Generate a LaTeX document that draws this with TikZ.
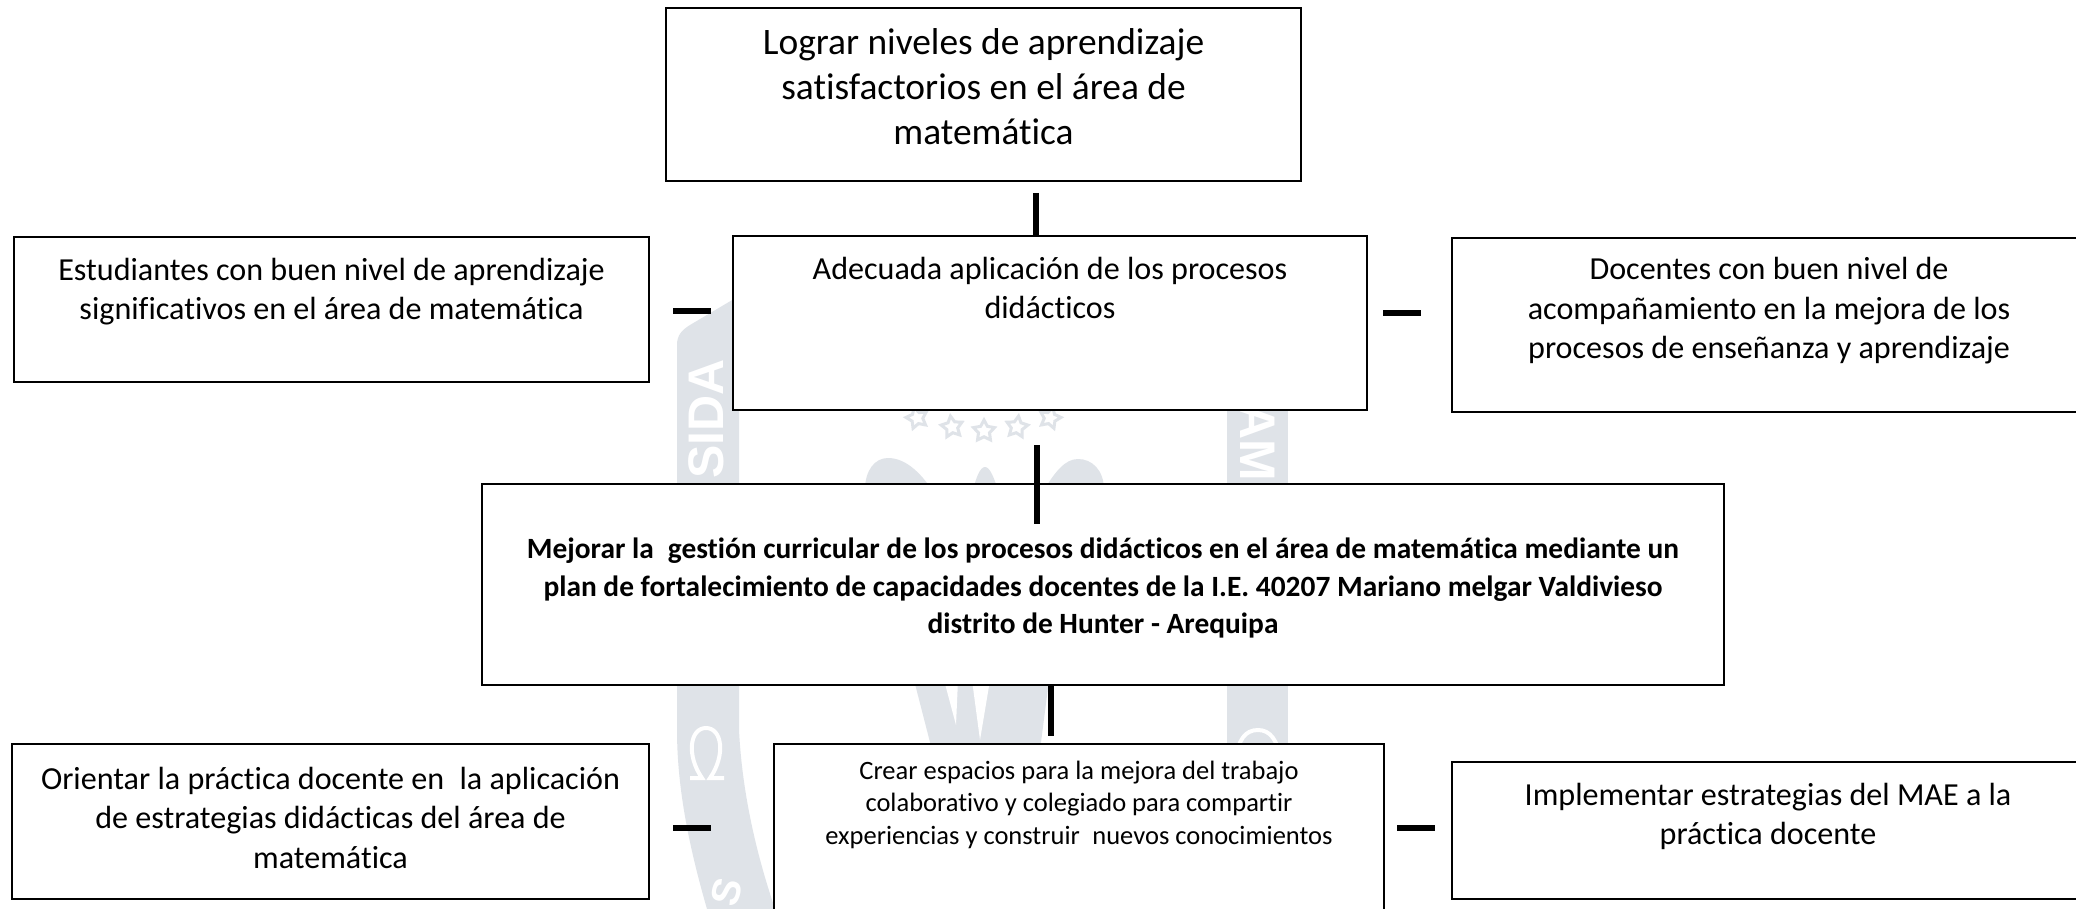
\documentclass[tikz,border=0pt]{standalone}
\usepackage{fontspec}
\setmainfont[Ligatures=NoCommon]{Carlito}
\newfontfamily\wmfont{Liberation Sans}
\usetikzlibrary{shapes.geometric}
\definecolor{wm}{HTML}{DFE3E8}
\newcommand{\bxt}[4]{\parbox[c][#2pt][t]{#1pt}{\vspace*{#3pt}\centering #4\par}}
\newcommand{\fA}{\fontsize{16.05}{19.7}\selectfont}
\newcommand{\fB}{\fontsize{18.7}{22.5}\selectfont}
\newcommand{\fC}{\fontsize{13.25}{16.2}\selectfont}
\newcommand{\fD}{\fontsize{14.7}{18.8}\selectfont\bfseries}
\tikzset{
  boxst/.style={draw=black,line width=1pt,fill=white,inner sep=0pt,outer sep=0pt,anchor=north west},
  barst/.style={line width=2.9pt,black},
  wmband/.style={fill=wm,draw=none},
  wmtext/.style={text=white,font=\wmfont\bfseries\fontsize{25}{25}\selectfont,inner sep=0pt},
  wmstar/.style={star,star points=5,star point ratio=1.9,draw=wm,line width=1.5pt,minimum size=11pt,inner sep=0pt}
}
\begin{document}
\begin{tikzpicture}[x=0.5pt,y=-0.5pt]
\useasboundingbox (0,0) rectangle (2076,909);
\clip (0,0) rectangle (2076,909);
\fill[white] (0,0) rectangle (2076,909);
% watermark
\path[wmband] (677,345) .. controls (677,335) and (682,330) .. (690,325) -- (739,296) -- (739,730) .. controls (742,790) and (755,850) .. (775,909) -- (707,909) .. controls (690,850) and (677,790) .. (677,730) -- cycle;
\path[wmband] (1227,240) rectangle (1288,760);
\node[wmtext,rotate=90] (wmsida) at (706,419) {SIDA};
\node[wmtext,rotate=-90] (wmam) at (1258,442) {AM};
\node[wmtext,rotate=75,font=\wmfont\bfseries\fontsize{20}{20}\selectfont] (wms) at (727,892) {S};
\draw[white,line width=2pt] (690,778) -- (702,778) .. controls (686,755) and (690,728) .. (706,728) .. controls (722,728) and (726,755) .. (710,778) -- (724,778);
\draw[white,line width=2pt] (1236,760) .. controls (1238,740) and (1245,730) .. (1258,730) .. controls (1270,730) and (1278,740) .. (1280,760);
\node[wmstar,rotate=15] (st1) at (917,418) {};
\node[wmstar,rotate=8] (st2) at (952,427) {};
\node[wmstar] (st3) at (984,431) {};
\node[wmstar,rotate=-8] (st4) at (1017,427) {};
\node[wmstar,rotate=-15] (st5) at (1050,418) {};
\path[wmband] (865,490) .. controls (865,470) and (875,458) .. (888,458) .. controls (905,458) and (920,472) .. (932,490) -- cycle;
\path[wmband] (973,490) .. controls (976,478) and (980,467) .. (985,467) .. controls (990,467) and (994,478) .. (998,490) -- cycle;
\path[wmband] (1044,490) .. controls (1055,472) and (1065,459) .. (1078,459) .. controls (1092,459) and (1104,470) .. (1104,490) -- cycle;
\path[wmband] (914,680) -- (1049,680) -- (1040,750) -- (932,750) -- cycle;
\path[fill=white] (944,680) -- (958,680) -- (956,725) -- cycle;
\path[fill=white] (972,680) -- (990,680) -- (980,740) -- cycle;
% boxes
\node[boxst] (top) at (666,8) {\bxt{317.5}{86.5}{10.5}{\fB Lograr niveles de aprendizaje\\ satisfactorios en el área de\\ matemática}};
\node[boxst] (efl) at (14,237) {\bxt{317.5}{72.5}{10.5}{\fA Estudiantes con buen nivel de aprendizaje\\ significativos en el área de matemática}};
\node[boxst] (efc) at (733,236) {\bxt{317}{87}{10.5}{\fA Adecuada aplicación de los procesos\\ didácticos}};
\node[boxst] (efr) at (1452,238) {\bxt{317}{87}{9.8}{\fA Docentes con buen nivel de\\ acompañamiento en la mejora de los\\ procesos de enseñanza y aprendizaje}};
\node[boxst] (obj) at (482,484) {\bxt{621}{100.5}{27}{\fD Mejorar la\hspace{0.25em} gestión curricular de los procesos didácticos en el área de matemática mediante un\\ plan de fortalecimiento de capacidades docentes de la I.E. 40207 Mariano melgar Valdivieso\\ distrito de Hunter - Arequipa}};
\node[boxst] (mel) at (12,744) {\bxt{318.5}{77.5}{11.5}{\fA Orientar la práctica docente en\hspace{0.25em} la aplicación\\ de estrategias didácticas del área de\\ matemática}};
\node[boxst] (mec) at (774,744) {\bxt{305}{90}{8.5}{\fC Crear espacios para la mejora del trabajo\\ colaborativo y colegiado para compartir\\ experiencias y construir\hspace{0.25em} nuevos conocimientos}};
\node[boxst] (mer) at (1452,762) {\bxt{316}{68.5}{10.5}{\fA Implementar estrategias del MAE a la\\ práctica docente}};
% connector ends
\coordinate (a1) at (1036,193); \coordinate (a2) at (1036,236);
\coordinate (b1) at (1037,445); \coordinate (b2) at (1037,524);
\coordinate (c1) at (1051,684); \coordinate (c2) at (1051,736);
\coordinate (d1) at (673,311); \coordinate (d2) at (711,311);
\coordinate (e1) at (1383,313); \coordinate (e2) at (1421,313);
\coordinate (f1) at (673,828); \coordinate (f2) at (711,828);
\coordinate (g1) at (1397,828); \coordinate (g2) at (1435,828);
\draw[barst] (a1) -- (a2);
\draw[barst] (b1) -- (b2);
\draw[barst] (c1) -- (c2);
\draw[barst] (d1) -- (d2);
\draw[barst] (e1) -- (e2);
\draw[barst] (f1) -- (f2);
\draw[barst] (g1) -- (g2);
\end{tikzpicture}
\end{document}
